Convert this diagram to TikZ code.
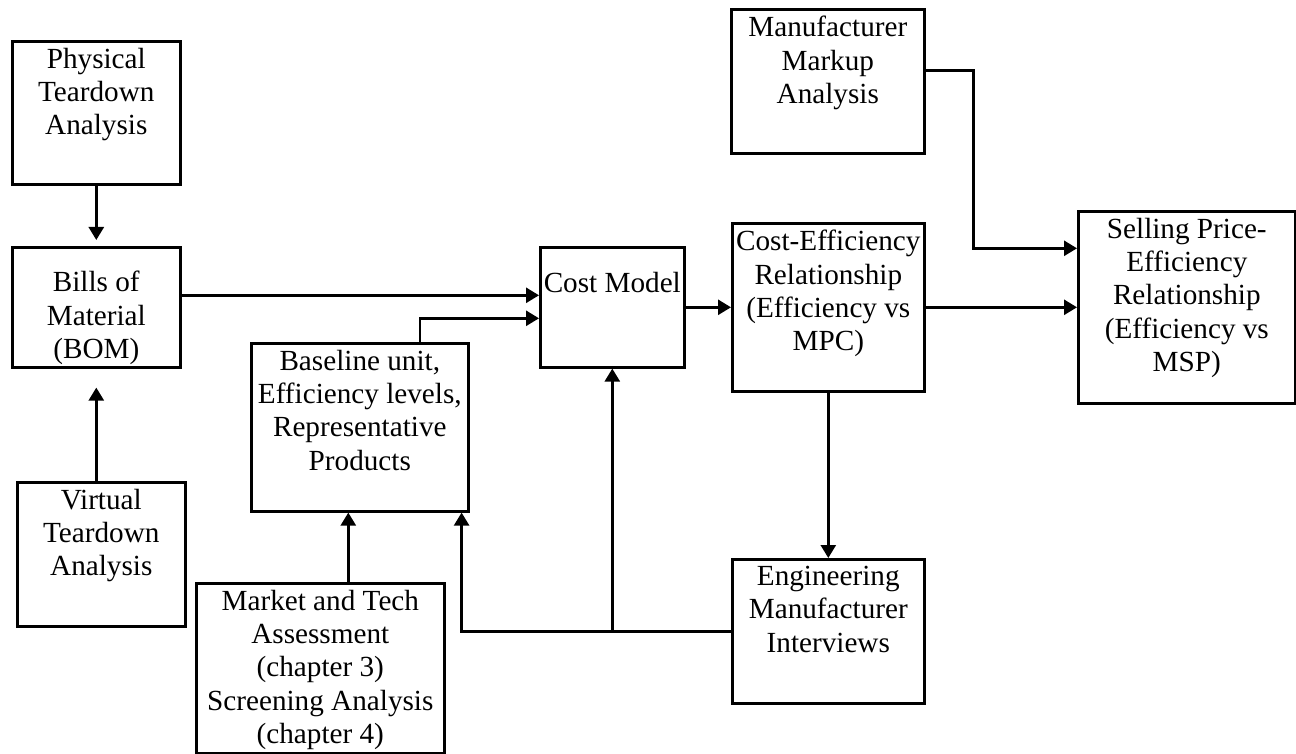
\documentclass[tikz,border=0pt]{standalone}
\usepackage{fontspec}
\setmainfont{Liberation Serif}
\usetikzlibrary{arrows.meta,positioning}

\begin{document}
\begin{tikzpicture}[x=0.5pt,y=-0.5pt,
  font=\fontsize{14.6}{16.6}\selectfont,
  line width=1.3pt,
  arr/.style={-{Triangle[length=6.5pt,width=7.5pt]}},
  blk/.style 2 args={draw, anchor=north west, inner sep=0pt,
    minimum width=#1*0.5pt, minimum height=#2*0.5pt},
  txt/.style={label={[anchor=north, align=center, inner sep=3.5pt]north:{#1}}},
  txtlow/.style 2 args={label={[anchor=north, align=center, inner sep=3.5pt, yshift=-#1]north:{#2}}}]
\useasboundingbox (0,0) rectangle (1296,754);

% left column
\node[blk={168}{143}, txt={Physical\\Teardown\\Analysis}] (phys) at (11,40) {};
\node[blk={168}{120}, txtlow={8.5pt}{Bills of\\Material\\(BOM)}] (bom) at (11,246) {};
\node[blk={168}{144}, txt={Virtual\\Teardown\\Analysis}] (virt) at (16,481) {};

% inputs to the cost model
\node[blk={217}{168}, txt={Baseline unit,\\Efficiency levels,\\Representative\\Products}] (base) at (250,342) {};
\node[blk={248}{170}, txt={Market and Tech\\Assessment\\(chapter 3)\\Screening Analysis\\(chapter 4)}] (mkt) at (195,582) {};
\node[blk={144}{120}, txtlow={9pt}{Cost Model}] (cost) at (539,246) {};

% right part
\node[blk={193}{144}, txt={Manufacturer\\Markup\\Analysis}] (mark) at (730,8) {};
\node[blk={192}{168}, txt={Cost-Efficiency\\Relationship\\(Efficiency vs\\MPC)}] (ce) at (731,222) {};
\node[blk={192}{144}, txt={Engineering\\Manufacturer\\Interviews}] (eng) at (731,558) {};
\node[blk={217}{192}, txt={Selling Price-\\Efficiency\\Relationship\\(Efficiency vs\\MSP)}] (sell) at (1077,210) {};

% arrows
\coordinate (mktin) at ([xshift=-5.75pt]base.south);
\draw[arr, shorten >=3pt] (phys) -- (bom);
\draw[arr, shorten >=9.5pt] (virt.north -| bom.south) -- (bom.south);
\draw[arr] ([yshift=6pt]bom.east) -- ([yshift=6pt]cost.west);
\draw[arr] ([xshift=30pt]base.north) |- ([yshift=-5.5pt]cost.west);
\draw[arr] (mkt.north -| mktin) -- (mktin);
\draw[arr] (cost) -- (ce);
\draw[arr] (ce) -- (sell);
\draw[arr] (ce) -- (eng);
\draw[arr] ([yshift=5.5pt]mark.east) -- ++(48,0) |- ([yshift=29.5pt]sell.west);
\draw[arr] (eng.west) -| ([xshift=-4pt]base.south east);
\draw[arr] (eng.west -| cost.south) -- (cost.south);
\end{tikzpicture}
\end{document}
